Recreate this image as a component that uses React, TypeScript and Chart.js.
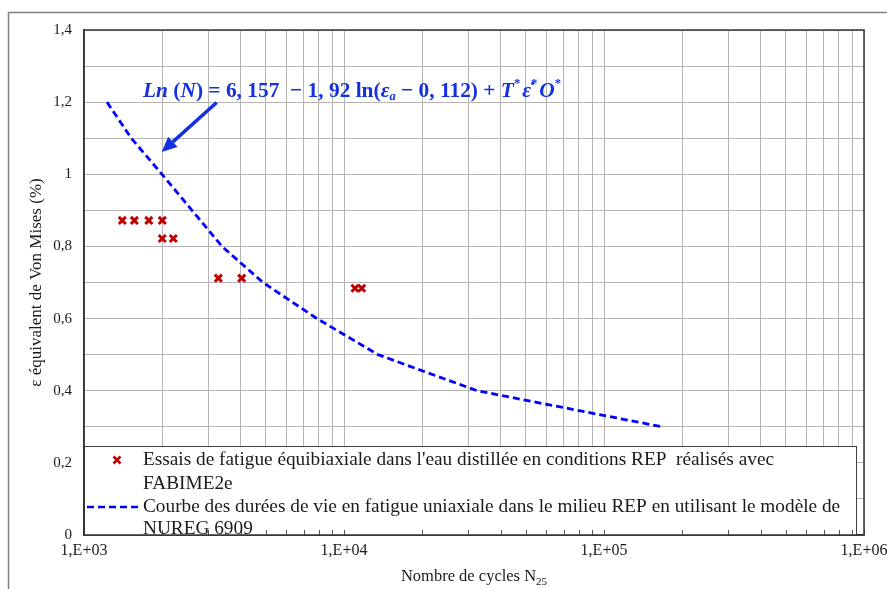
import React, { useEffect, useRef } from "react";
import { Chart, registerables } from "chart.js";

Chart.register(...registerables);

// ---- Data ----
const testCycles = [1404, 1562, 1775, 2000, 2000, 2206, 3286, 4041, 11020, 11700];
const testStrain = [0.872, 0.872, 0.872, 0.872, 0.822, 0.822, 0.712, 0.712, 0.684, 0.684];

const curveCycles = [1226, 1520, 1995, 3396, 4881, 7870, 13510, 32480, 167100];
const curveStrain = [1.2, 1.1, 1.0, 0.8, 0.7, 0.6, 0.5, 0.4, 0.3];

const xTickValues = [
  1000, 2000, 3000, 4000, 5000, 6000, 7000, 8000, 9000,
  10000, 20000, 30000, 40000, 50000, 60000, 70000, 80000, 90000,
  100000, 200000, 300000, 400000, 500000, 600000, 700000, 800000, 900000,
  1000000,
];

const legendLines1 = [
  "Essais de fatigue équibiaxiale dans l'eau distillée en conditions REP  réalisés avec",
  "FABIME2e",
];
const legendLines2 = [
  "Courbe des durées de vie en fatigue uniaxiale dans le milieu REP en utilisant le modèle de",
  "NUREG 6909",
];

const yTitle = "ε équivalent de Von Mises (%)";
const xTitleMain = "Nombre de cycles N";
const xTitleSub = "25";

// annotation (data coordinates)
const annoTextStart = [1687, 1.231];
const annoTextEnd = [69500, 1.231];
const arrowFrom = [3238, 1.199];
const arrowTo = [1990, 1.062];
type Seg = { t: string; it?: boolean; sub?: boolean; sup?: boolean };
const annoSegments: Seg[] = [
  { t: "Ln", it: true },
  { t: " (" },
  { t: "N", it: true },
  { t: ") = 6, 157  − 1, 92 " },
  { t: "ln" },
  { t: "(" },
  { t: "ε", it: true },
  { t: "a", it: true, sub: true },
  { t: " − 0, 112) + " },
  { t: "T", it: true },
  { t: "*", sup: true },
  { t: "ε̇", it: true },
  { t: "*", sup: true },
  { t: "O", it: true },
  { t: "*", sup: true },
];

const SERIF = "'Liberation Serif', 'Times New Roman', serif";
const RED = "#C00000";
const BLUE = "#0000FF";
const ANNO_BLUE = "#1530E0";

const decorPlugin = {
  id: "decor",
  beforeDraw(chart: any) {
    const ctx = chart.ctx;
    ctx.save();
    ctx.fillStyle = "#ffffff";
    ctx.fillRect(0, 0, chart.width, chart.height);
    ctx.strokeStyle = "#7f7f7f";
    ctx.lineWidth = 1.5;
    ctx.beginPath();
    ctx.moveTo(8.5, chart.height);
    ctx.lineTo(8.5, 12.5);
    ctx.lineTo(chart.width, 12.5);
    ctx.stroke();
    ctx.restore();
  },
  afterDatasetsDraw(chart: any) {
    const ctx = chart.ctx;
    const a = chart.chartArea;
    const xs = chart.scales.x;
    const ys = chart.scales.y;
    ctx.save();

    // ---- annotation text ----
    const baseSize = 22;
    const fontFor = (s: Seg) => {
      const size = s.sub || s.sup ? Math.round(baseSize * 0.6) : baseSize;
      return `${s.it ? "italic " : ""}bold ${size}px 'Liberation Serif', serif`;
    };
    let total = 0;
    for (const s of annoSegments) {
      ctx.font = fontFor(s);
      total += ctx.measureText(s.t).width + (s.sup ? 2 : 0);
    }
    const tx0 = xs.getPixelForValue(annoTextStart[0]);
    const tx1 = xs.getPixelForValue(annoTextEnd[0]);
    const ty = ys.getPixelForValue(annoTextStart[1]);
    const sc = (tx1 - tx0) / total;
    ctx.save();
    ctx.translate(tx0, ty);
    ctx.scale(sc, 1);
    ctx.fillStyle = ANNO_BLUE;
    ctx.textBaseline = "middle";
    ctx.textAlign = "left";
    let cx = 0;
    for (const s of annoSegments) {
      ctx.font = fontFor(s);
      const dy = s.sub ? 6 : s.sup ? -7 : 0;
      ctx.fillText(s.t, cx, dy);
      cx += ctx.measureText(s.t).width + (s.sup ? 2 : 0);
    }
    ctx.restore();

    // ---- arrow ----
    const ax0 = xs.getPixelForValue(arrowFrom[0]);
    const ay0 = ys.getPixelForValue(arrowFrom[1]);
    const ax1 = xs.getPixelForValue(arrowTo[0]);
    const ay1 = ys.getPixelForValue(arrowTo[1]);
    const ang = Math.atan2(ay1 - ay0, ax1 - ax0);
    const headLen = 15;
    const headW = 7;
    const bx = ax1 - Math.cos(ang) * headLen;
    const by = ay1 - Math.sin(ang) * headLen;
    ctx.strokeStyle = ANNO_BLUE;
    ctx.fillStyle = ANNO_BLUE;
    ctx.lineWidth = 3.5;
    ctx.beginPath();
    ctx.moveTo(ax0, ay0);
    ctx.lineTo(bx, by);
    ctx.stroke();
    ctx.beginPath();
    ctx.moveTo(ax1, ay1);
    ctx.lineTo(bx + Math.sin(ang) * headW, by - Math.cos(ang) * headW);
    ctx.lineTo(bx - Math.sin(ang) * headW, by + Math.cos(ang) * headW);
    ctx.closePath();
    ctx.fill();

    // ---- legend box ----
    const lx0 = a.left;
    const lx1 = 856;
    const ly0 = 446;
    const ly1 = a.bottom;
    ctx.fillStyle = "#ffffff";
    ctx.fillRect(lx0, ly0, lx1 - lx0, ly1 - ly0);
    ctx.strokeStyle = "#404040";
    ctx.lineWidth = 1;
    ctx.strokeRect(lx0 + 0.5, ly0 + 0.5, lx1 - lx0, ly1 - ly0);

    // inner tick marks along bottom axis
    ctx.strokeStyle = "#555555";
    ctx.lineWidth = 1;
    for (const v of xTickValues) {
      const px = Math.round(xs.getPixelForValue(v)) + 0.5;
      ctx.beginPath();
      ctx.moveTo(px, a.bottom);
      ctx.lineTo(px, a.bottom - 5);
      ctx.stroke();
    }

    ctx.font = `19.3px ${SERIF}`;
    ctx.fillStyle = "#1a1a1a";
    ctx.textBaseline = "middle";
    ctx.textAlign = "left";
    const textX = 143;
    const rows = [460, 484, 507, 529];
    ctx.fillText(legendLines1[0], textX, rows[0]);
    ctx.fillText(legendLines1[1], textX, rows[1]);
    ctx.fillText(legendLines2[0], textX, rows[2]);
    ctx.fillText(legendLines2[1], textX, rows[3]);

    // marker sample
    ctx.strokeStyle = RED;
    ctx.lineWidth = 2.5;
    const mx = 117, my = rows[0], mr = 3.5;
    ctx.beginPath();
    ctx.moveTo(mx - mr, my - mr);
    ctx.lineTo(mx + mr, my + mr);
    ctx.moveTo(mx + mr, my - mr);
    ctx.lineTo(mx - mr, my + mr);
    ctx.stroke();

    // line sample
    ctx.strokeStyle = BLUE;
    ctx.lineWidth = 2.5;
    ctx.setLineDash([7, 4]);
    ctx.beginPath();
    ctx.moveTo(87, rows[2]);
    ctx.lineTo(142, rows[2]);
    ctx.stroke();
    ctx.setLineDash([]);

    // plot border
    ctx.strokeStyle = "#333333";
    ctx.lineWidth = 1.5;
    ctx.strokeRect(a.left, a.top, a.right - a.left, a.bottom - a.top);

    // x title with subscript
    ctx.fillStyle = "#1a1a1a";
    ctx.font = `16.5px ${SERIF}`;
    const wMain = ctx.measureText(xTitleMain).width;
    ctx.font = `11px ${SERIF}`;
    const wSub = ctx.measureText(xTitleSub).width;
    const cxT = (a.left + a.right) / 2;
    const startX = cxT - (wMain + wSub) / 2;
    const tyT = 577;
    ctx.font = `16.5px ${SERIF}`;
    ctx.fillText(xTitleMain, startX, tyT);
    ctx.font = `11px ${SERIF}`;
    ctx.fillText(xTitleSub, startX + wMain, tyT + 5);

    ctx.restore();
  },
};

export default function App() {
  const canvasRef = useRef<HTMLCanvasElement | null>(null);

  useEffect(() => {
    const canvas = canvasRef.current;
    if (!canvas) return;
    const chart = new Chart(canvas, {
      type: "scatter",
      data: {
        datasets: [
          {
            label: legendLines1.join(" "),
            data: testCycles.map((x, i) => ({ x, y: testStrain[i] })),
            pointStyle: "crossRot",
            pointRadius: 5,
            pointBorderWidth: 3,
            borderColor: RED,
            backgroundColor: RED,
            showLine: false,
          },
          {
            label: legendLines2.join(" "),
            data: curveCycles.map((x, i) => ({ x, y: curveStrain[i] })),
            showLine: true,
            pointRadius: 0,
            borderColor: BLUE,
            borderWidth: 2.8,
            borderDash: [7, 4],
            tension: 0,
            fill: false,
          },
        ],
      },
      options: {
        animation: false,
        responsive: false,
        devicePixelRatio: 1,
        layout: { padding: { top: 30, right: 23, left: 0, bottom: 0 } },
        plugins: {
          legend: { display: false },
          tooltip: { enabled: false },
        },
        scales: {
          x: {
            type: "logarithmic",
            min: 1000,
            max: 1000000,
            afterBuildTicks: (scale: any) => {
              scale.ticks = xTickValues.map((v) => ({ value: v }));
            },
            afterFit: (scale: any) => {
              scale.height = 54;
              scale.paddingLeft = 0;
              scale.paddingRight = 0;
            },
            grid: { color: "#b4b4b4", lineWidth: 1, drawTicks: false },
            border: { display: true, color: "#333333", width: 1.5 },
            ticks: {
              autoSkip: false,
              maxRotation: 0,
              minRotation: 0,
              padding: 6,
              color: "#1a1a1a",
              font: { family: SERIF, size: 16 },
              callback: (v: any) => {
                const e = Math.log10(Number(v));
                if (Math.abs(e - Math.round(e)) < 1e-9) {
                  return "1,E+0" + Math.round(e);
                }
                return "";
              },
            },
          },
          y: {
            type: "linear",
            min: 0,
            max: 1.4,
            afterFit: (scale: any) => {
              scale.width = 84;
              scale.paddingTop = 0;
              scale.paddingBottom = 0;
            },
            grid: { color: "#b4b4b4", lineWidth: 1, drawTicks: false },
            border: { display: true, color: "#333333", width: 1.5 },
            title: {
              display: true,
              text: yTitle,
              color: "#1a1a1a",
              font: { family: SERIF, size: 17 },
              padding: { top: 26, bottom: 0 },
            },
            ticks: {
              stepSize: 0.1,
              autoSkip: false,
              padding: 12,
              color: "#1a1a1a",
              font: { family: SERIF, size: 15 },
              callback: (v: any) => {
                const k = Math.round(Number(v) * 10);
                if (k % 2 !== 0) return "";
                return String(k / 10).replace(".", ",");
              },
            },
          },
        },
      },
      plugins: [decorPlugin],
    });
    return () => chart.destroy();
  }, []);

  return (
    <div style={{ position: "fixed", left: 0, top: 0, width: 887, height: 589, background: "#fff" }}>
      <canvas ref={canvasRef} width={887} height={589} style={{ display: "block" }} />
    </div>
  );
}
